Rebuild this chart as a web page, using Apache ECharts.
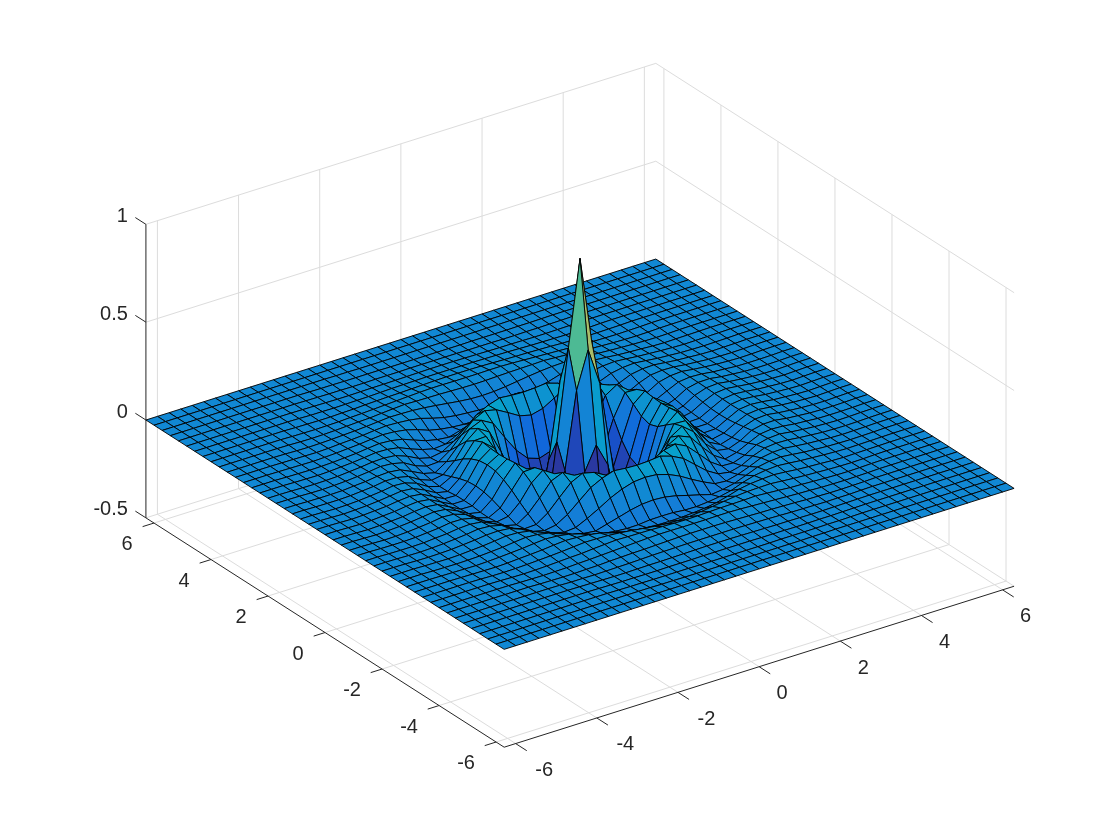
<!DOCTYPE html>
<html>
<head>
<meta charset="utf-8">
<title>surface</title>
<style>
  html, body { margin: 0; padding: 0; background: #fff; }
  #chart { width: 1120px; height: 840px; }
</style>
<script src="https://cdn.jsdelivr.net/npm/echarts@6/dist/echarts.min.js"></script>
</head>
<body>
<div id="chart"></div>
<script>
// grid positions from the centre outwards (the x and y grids are the same, mirrored about 0)
const gridHalf = [0, 0.286, 0.571, 0.857, 1.142, 1.428, 1.714, 1.999, 2.285, 2.570, 2.856, 3.142,
  3.427, 3.713, 3.998, 4.284, 4.570, 4.855, 5.141, 5.426, 5.712, 5.998, 6.283];

// surface height. the surface looks the same in all 8 octants,
// so zRows[a][b] is the height a cells and b cells from the centre (b <= a)
const zRows = [
  [1],
  [0.56, 0.37],
  [0.1, -0.02, -0.28],
  [-0.32, -0.33, -0.33, -0.28],
  [-0.30, -0.29, -0.25, -0.155, -0.02],
  [-0.155, -0.135, -0.075, 0.01, 0.10, 0.133],
  [0.04, 0.055, 0.09, 0.123, 0.137, 0.108, 0.05],
  [0.13, 0.133, 0.139, 0.12, 0.09, 0.04, -0.01, -0.045],
  [0.095, 0.09, 0.072, 0.045, 0.01, -0.022, -0.05, -0.055, -0.04],
  [0.006, 0.002, -0.01, -0.027, -0.043, -0.06, -0.053, -0.04, -0.018, 0.005],
  [-0.05, -0.051, -0.057, -0.058, -0.053, -0.045, -0.032, -0.01, 0.007, 0.016, 0.02],
  [-0.05, -0.049, -0.045, -0.04, -0.031, -0.016, 0.002, 0.012, 0.017, 0.02, 0.015, 0.009],
  [-0.02, -0.018, -0.012, -0.004, 0.004, 0.011, 0.016, 0.018, 0.019, 0.014, 0.009, 0.005, 0.002],
  [0.011, 0.012, 0.014, 0.016, 0.017, 0.018, 0.02, 0.016, 0.012, 0.007, 0.005, 0.002, -0.001, -0.003],
  [0.019, 0.019, 0.02, 0.02, 0.018, 0.015, 0.012, 0.009, 0.006, 0.003, 0.001, -0.002, -0.003, -0.004, -0.003],
  [0.014, 0.014, 0.013, 0.011, 0.009, 0.007, 0.006, 0.004, 0.002, -0.001, -0.002, -0.004, -0.004, -0.003, -0.002, 0],
  [0.006, 0.006, 0.006, 0.005, 0.004, 0.003, 0.001, -0.001, -0.002, -0.003, -0.004, -0.003, -0.003, -0.001, 0, 0, 0],
  [0.002, 0.002, 0.001, 0, -0.001, -0.002, -0.002, -0.003, -0.004, -0.004, -0.003, -0.002, -0.001, 0, 0, 0, 0, 0],
  [-0.002, -0.002, -0.002, -0.003, -0.003, -0.003, -0.004, -0.004, -0.003, -0.003, -0.002, -0.001, 0, 0, 0, 0, 0, 0, 0],
  [-0.004, -0.004, -0.004, -0.004, -0.003, -0.003, -0.003, -0.003, -0.002, -0.002, -0.001, 0, 0, 0, 0, 0, 0, 0, 0, 0],
  [-0.002, -0.002, -0.002, -0.002, -0.002, -0.002, -0.001, -0.001, 0, 0, 0, 0, 0, 0, 0, 0, 0, 0, 0, 0, 0],
  [0, 0, 0, 0, 0, 0, 0, 0, 0, 0, 0, 0, 0, 0, 0, 0, 0, 0, 0, 0, 0, 0],
  [0, 0, 0, 0, 0, 0, 0, 0, 0, 0, 0, 0, 0, 0, 0, 0, 0, 0, 0, 0, 0, 0, 0]
];

const xTicks = [-6, -4, -2, 0, 2, 4, 6];
const yTicks = [-6, -4, -2, 0, 2, 4, 6];
const zTicks = [-0.5, 0, 0.5, 1];
const parula = ['#352a87', '#0f5cdd', '#1481d6', '#06a4ca', '#2eb7a4', '#87bf77', '#d1bb59', '#fec832', '#f9fb0e'];

const chart = echarts.init(document.getElementById('chart'));

const half = gridHalf.length - 1;
const lim = gridHalf[half];
const zMin = -0.5;
const zMax = 1;

// fixed camera: parallel projection, view(-37.5, 30)
function project(x, y, z) {
  return [
    580 + 40.58 * x - 28.51 * y,
    454.2 - 12.81 * x - 18.25 * y - 195.7 * z
  ];
}

function gridAt(i) { return i < half ? -gridHalf[half - i] : gridHalf[i - half]; }

function heightAt(i, j) {
  const a = Math.abs(i - half);
  const b = Math.abs(j - half);
  return zRows[Math.max(a, b)][Math.min(a, b)];
}

function corner(i, j) { return project(gridAt(i), gridAt(j), heightAt(i, j)); }

// back to front, so nearer faces paint over the ones behind them
function buildFaces() {
  const faces = [];
  for (let i = 2 * half - 1; i >= 0; i--) {
    for (let j = 2 * half - 1; j >= 0; j--) {
      faces.push([i, j, heightAt(i, j)]);
    }
  }
  return faces;
}

function buildGridLines() {
  const segs = [];
  xTicks.forEach(t => {
    segs.push([t, -lim, zMin, t, lim, zMin]);
    segs.push([t, lim, zMin, t, lim, zMax]);
  });
  yTicks.forEach(t => {
    segs.push([-lim, t, zMin, lim, t, zMin]);
    segs.push([lim, t, zMin, lim, t, zMax]);
  });
  zTicks.forEach(t => {
    segs.push([-lim, lim, t, lim, lim, t]);
    segs.push([lim, lim, t, lim, -lim, t]);
  });
  return segs;
}

function buildAxisLines() {
  const segs = [
    [-lim, lim, zMin, -lim, lim, zMax],
    [-lim, lim, zMin, -lim, -lim, zMin],
    [-lim, -lim, zMin, lim, -lim, zMin]
  ];
  xTicks.forEach(t => segs.push([t, -lim, zMin, t, -lim - 0.39, zMin]));
  yTicks.forEach(t => segs.push([-lim, t, zMin, -lim - 0.28, t, zMin]));
  zTicks.forEach(t => segs.push([-lim, lim, t, -lim, lim + 0.37, t]));
  return segs;
}

function buildLabels() {
  const list = [];
  xTicks.forEach(t => list.push({ value: [t, -lim, zMin, t < 0 ? 28.5 : 23, 27], name: String(t), align: 'center' }));
  yTicks.forEach(t => list.push({ value: [-lim, t, zMin, t < 0 ? -30 : -27, 21.5], name: String(t), align: 'center' }));
  zTicks.forEach(t => list.push({ value: [-lim, lim, t, -18, -8], name: String(t), align: 'right' }));
  return list;
}

function segmentSeries(data, color, width) {
  return {
    type: 'custom',
    silent: true,
    animation: false,
    progressive: 0,
    data: data,
    renderItem: function (params, api) {
      const a = api.coord(project(api.value(0), api.value(1), api.value(2)));
      const b = api.coord(project(api.value(3), api.value(4), api.value(5)));
      return {
        type: 'line',
        shape: { x1: a[0], y1: a[1], x2: b[0], y2: b[1] },
        style: { stroke: color, lineWidth: width, fill: null }
      };
    }
  };
}

const labels = buildLabels();

chart.setOption({
  backgroundColor: '#fff',
  animation: false,
  grid: { left: 0, right: 0, top: 0, bottom: 0 },
  xAxis: { type: 'value', min: 0, max: 1120, show: false },
  yAxis: { type: 'value', min: 0, max: 840, inverse: true, show: false },
  visualMap: {
    show: false,
    type: 'continuous',
    seriesIndex: 2,
    dimension: 2,
    min: -0.38,
    max: 1,
    inRange: { color: parula }
  },
  series: [
    segmentSeries(buildGridLines(), '#dcdcdc', 1),
    segmentSeries(buildAxisLines(), '#262626', 1),
    {
      type: 'custom',
      silent: true,
      animation: false,
      progressive: 0,
      data: buildFaces(),
      renderItem: function (params, api) {
        const i = api.value(0);
        const j = api.value(1);
        const pts = [corner(i, j), corner(i + 1, j), corner(i + 1, j + 1), corner(i, j + 1)];
        return {
          type: 'polygon',
          shape: { points: pts.map(p => api.coord(p)) },
          style: { fill: api.visual('color'), stroke: '#000', lineWidth: 0.9 }
        };
      }
    },
    {
      type: 'custom',
      silent: true,
      animation: false,
      data: labels,
      renderItem: function (params, api) {
        const p = api.coord(project(api.value(0), api.value(1), api.value(2)));
        const item = labels[params.dataIndex];
        return {
          type: 'text',
          x: p[0] + api.value(3),
          y: p[1] + api.value(4),
          style: {
            text: item.name,
            fill: '#262626',
            font: '20px "Liberation Sans", Arial, sans-serif',
            align: item.align,
            verticalAlign: 'middle'
          }
        };
      }
    }
  ]
});

window.addEventListener('resize', function () { chart.resize(); });
</script>
</body>
</html>
